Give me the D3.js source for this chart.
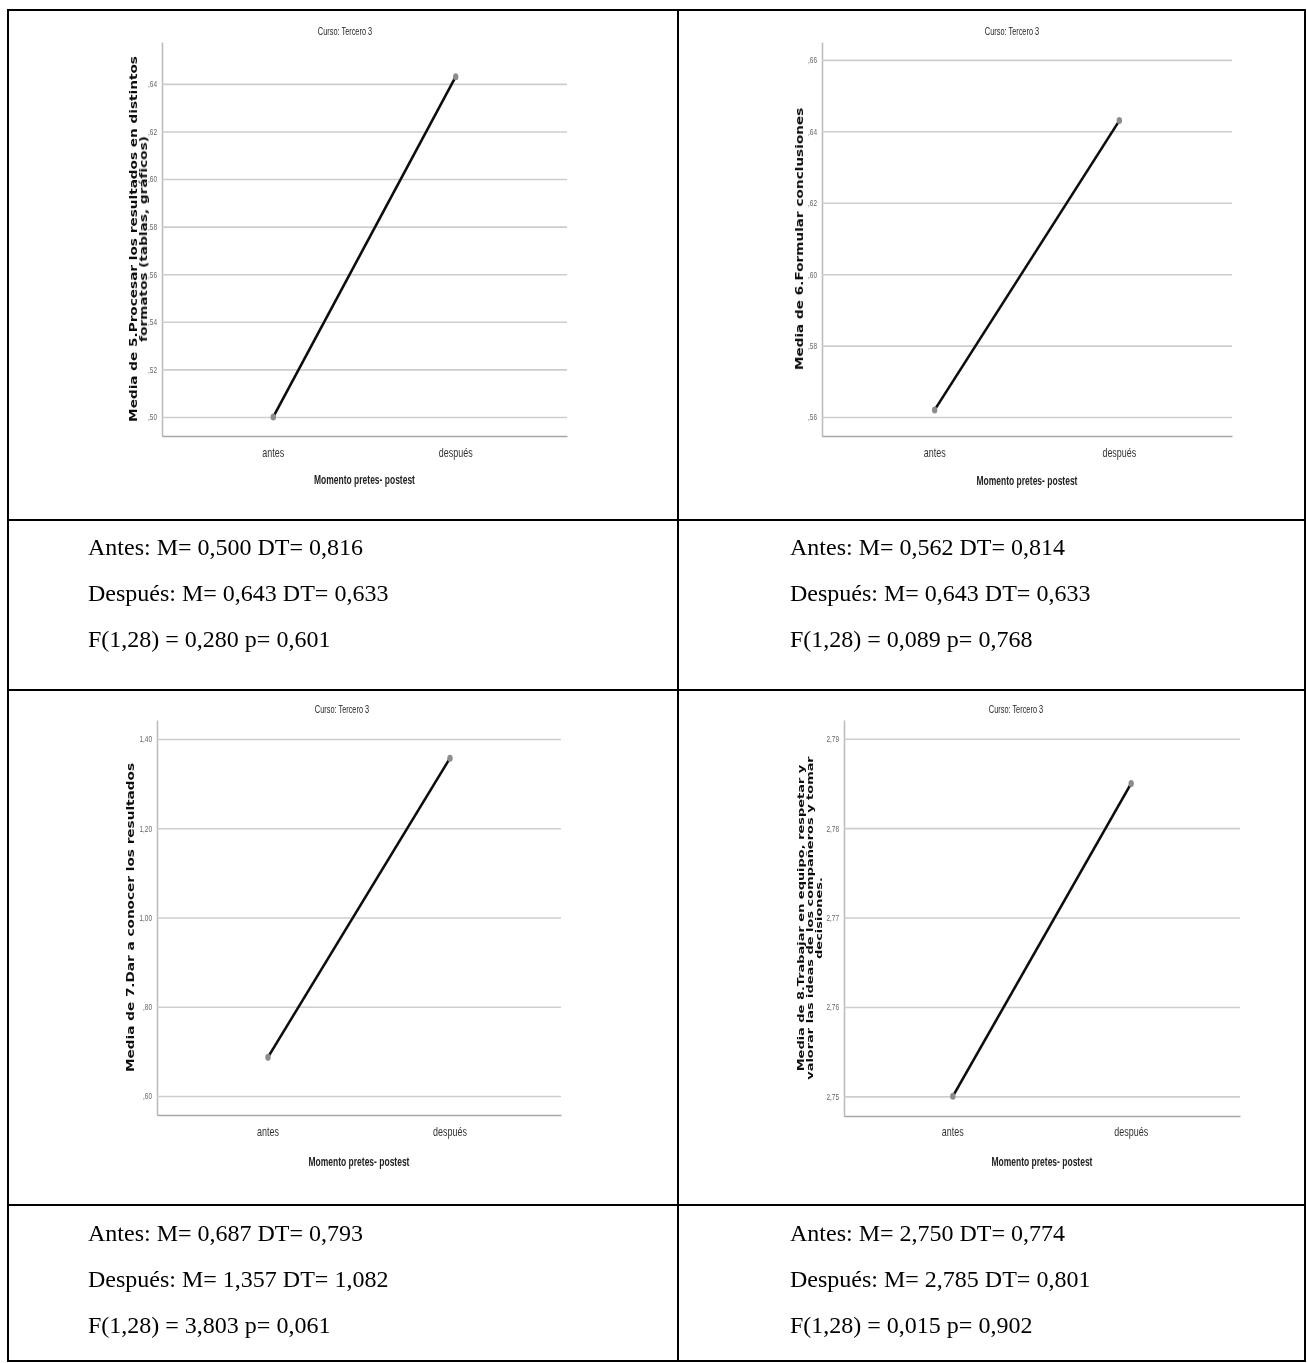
<!DOCTYPE html>
<html lang="es">
<head>
<meta charset="utf-8">
<title>Medias antes / después – Curso: Tercero 3</title>
<script src="https://cdn.jsdelivr.net/npm/d3@7/dist/d3.min.js"></script>
<style>
  html, body { margin: 0; padding: 0; background: #fff; }
  svg { display: block; }
</style>
</head>
<body>
<svg id="chart" width="1307" height="1363"></svg>
<script>
// ---- data ------------------------------------------------------------
const categories = ["antes", "después"];
const meanAntes   = [0.500, 0.562, 0.687, 2.750];
const meanDespues = [0.643, 0.643, 1.357, 2.785];
const sdAntes     = [0.816, 0.814, 0.793, 0.774];
const sdDespues   = [0.633, 0.633, 1.082, 0.801];
const fStat       = [0.280, 0.089, 3.803, 0.015];
const pValue      = [0.601, 0.768, 0.061, 0.902];
const fDegrees    = "1,28";

const yDomains = [[0.492, 0.6576], [0.5547, 0.665], [0.5574, 1.4426], [2.7478, 2.7921]];
const yTicks = [
  [0.50, 0.52, 0.54, 0.56, 0.58, 0.60, 0.62, 0.64],
  [0.56, 0.58, 0.60, 0.62, 0.64, 0.66],
  [0.60, 0.80, 1.00, 1.20, 1.40],
  [2.75, 2.76, 2.77, 2.78, 2.79]
];
const yTickLabels = [
  [",50", ",52", ",54", ",56", ",58", ",60", ",62", ",64"],
  [",56", ",58", ",60", ",62", ",64", ",66"],
  [",60", ",80", "1,00", "1,20", "1,40"],
  ["2,75", "2,76", "2,77", "2,78", "2,79"]
];
const yTitles = [
  ["Media de 5.Procesar los resultados en distintos", "formatos (tablas, gráficos)"],
  ["Media de 6.Formular conclusiones"],
  ["Media de 7.Dar a conocer los resultados"],
  ["Media de 8.Trabajar en equipo, respetar y", "valorar las ideas de los compañeros y tomar", "decisiones."]
];
const chartTitle = "Curso: Tercero 3";
const xTitle = "Momento pretes- postest";

// ---- layout ----------------------------------------------------------
const panels = [
  { left: 162, right: 567,  top: 42,  bottom: 436,  titleX: 345,  titleY: 31,  yTitleX: 133, catY: 452,  xTitleY: 480 },
  { left: 822, right: 1232, top: 42,  bottom: 436,  titleX: 1012, titleY: 31,  yTitleX: 799, catY: 452,  xTitleY: 481 },
  { left: 157, right: 561,  top: 720, bottom: 1115, titleX: 342,  titleY: 709, yTitleX: 130, catY: 1131, xTitleY: 1162 },
  { left: 844, right: 1240, top: 720, bottom: 1116, titleX: 1016, titleY: 709, yTitleX: 801, catY: 1131, xTitleY: 1162 }
];
const textBlocks = [
  { x: 88,  y: 555 }, { x: 790, y: 555 },
  { x: 88,  y: 1241 }, { x: 790, y: 1241 }
];
const textLineGap = 46;

const svg = d3.select("#chart");
const fmt3 = v => d3.format(".3f")(v).replace(".", ",");

// soft rendering of the plotted figures
const defs = svg.append("defs");
defs.append("filter").attr("id", "soft")
  .append("feGaussianBlur").attr("stdDeviation", 0.35);

// horizontally condensed text helper
function squeeze(sel, sx, x) {
  sel.attr("transform", `scale(${sx},1)`).attr("x", x / sx);
}

panels.forEach((p, i) => {
  const g = svg.append("g").attr("filter", "url(#soft)");
  const width = p.right - p.left;

  const x = d3.scalePoint().domain(categories).range([p.left, p.right]).padding(0.61);
  const y = d3.scaleLinear().domain(yDomains[i]).range([p.bottom, p.top]);

  // y axis with horizontal grid lines
  const yAxis = g.append("g")
    .attr("transform", `translate(${p.left},0)`)
    .call(d3.axisLeft(y)
      .tickValues(yTicks[i])
      .tickFormat((d, k) => yTickLabels[i][k])
      .tickSizeInner(-width)
      .tickSizeOuter(0)
      .tickPadding(5));
  yAxis.select(".domain").attr("stroke", "#bdbdbd").attr("stroke-width", 1.6);
  yAxis.selectAll(".tick line").attr("stroke", "#cdcdcd").attr("stroke-width", 1.6);
  yAxis.selectAll(".tick text")
    .attr("fill", "#666")
    .attr("font-family", "'Liberation Sans', Arial, sans-serif")
    .attr("font-size", 9)
    .each(function () { squeeze(d3.select(this), 0.72, -5); });

  // x axis
  const xAxis = g.append("g")
    .attr("transform", `translate(0,${p.bottom})`)
    .call(d3.axisBottom(x).tickSize(0).tickPadding(0));
  xAxis.select(".domain").attr("stroke", "#a6a6a6").attr("stroke-width", 1.6);
  xAxis.selectAll(".tick text").remove();
  g.selectAll("text.cat")
    .data(categories)
    .join("text")
    .attr("class", "cat")
    .attr("y", p.catY)
    .attr("dy", "0.35em")
    .attr("text-anchor", "middle")
    .attr("fill", "#333")
    .attr("font-family", "'Liberation Sans', Arial, sans-serif")
    .attr("font-size", 13)
    .text(d => d)
    .each(function (d) { squeeze(d3.select(this), 0.69, x(d)); });

  // chart title
  g.append("text")
    .attr("y", p.titleY).attr("dy", "0.35em")
    .attr("text-anchor", "middle")
    .attr("fill", "#222")
    .attr("font-family", "'Liberation Sans', Arial, sans-serif")
    .attr("font-size", 11)
    .text(chartTitle)
    .call(s => squeeze(s, 0.67, p.titleX));

  // x axis title
  g.append("text")
    .attr("y", p.xTitleY).attr("dy", "0.35em")
    .attr("text-anchor", "middle")
    .attr("fill", "#222")
    .attr("font-weight", "bold")
    .attr("font-family", "'Liberation Sans', Arial, sans-serif")
    .attr("font-size", 12.5)
    .text(xTitle)
    .call(s => squeeze(s, 0.68, (p.left + p.right) / 2));

  // y axis title (rotated, stretched along the text)
  const cy = (p.top + p.bottom) / 2;
  const many = yTitles[i].length > 2;
  const lineStep = many ? 8.8 : 10;
  const fontSize = many ? 9 : 10.5;
  const stretch = many ? 1.44 : 1.3;
  yTitles[i].forEach((line, k) => {
    g.append("text")
      .attr("transform", `translate(${p.yTitleX + k * lineStep},${cy}) rotate(-90) scale(${stretch},1)`)
      .attr("dy", "0.35em")
      .attr("text-anchor", "middle")
      .attr("fill", "#111")
      .attr("font-weight", "bold")
      .attr("font-family", "'DejaVu Sans', Verdana, sans-serif")
      .attr("font-size", fontSize)
      .text(line);
  });

  // mean line and markers
  const pts = [
    { c: categories[0], v: meanAntes[i] },
    { c: categories[1], v: meanDespues[i] }
  ];
  g.append("path")
    .datum(pts)
    .attr("fill", "none")
    .attr("stroke", "#111")
    .attr("stroke-width", 2.6)
    .attr("d", d3.line().x(d => x(d.c)).y(d => y(d.v)));
  g.selectAll("ellipse.pt")
    .data(pts)
    .join("ellipse")
    .attr("class", "pt")
    .attr("cx", d => x(d.c))
    .attr("cy", d => y(d.v))
    .attr("rx", 2.7)
    .attr("ry", 3.5)
    .attr("fill", "#8c8c8c");
});

// ---- statistics text under each chart ---------------------------------
textBlocks.forEach((b, i) => {
  const lines = [
    `Antes: M= ${fmt3(meanAntes[i])} DT= ${fmt3(sdAntes[i])}`,
    `Después: M= ${fmt3(meanDespues[i])} DT= ${fmt3(sdDespues[i])}`,
    `F(${fDegrees}) = ${fmt3(fStat[i])} p= ${fmt3(pValue[i])}`
  ];
  lines.forEach((t, k) => {
    svg.append("text")
      .attr("x", b.x)
      .attr("y", b.y + k * textLineGap)
      .attr("fill", "#000")
      .attr("font-family", "'Liberation Serif', 'Times New Roman', serif")
      .attr("font-size", 24)
      .text(t);
  });
});

// ---- table rules ------------------------------------------------------
const rules = svg.append("g").attr("stroke", "#000").attr("stroke-width", 2).attr("fill", "none");
rules.append("rect").attr("x", 8).attr("y", 10).attr("width", 1297).attr("height", 1351);
rules.append("line").attr("x1", 678).attr("x2", 678).attr("y1", 10).attr("y2", 1361);
[520, 690, 1205].forEach(yy => {
  rules.append("line").attr("x1", 8).attr("x2", 1305).attr("y1", yy).attr("y2", yy);
});
</script>
</body>
</html>
